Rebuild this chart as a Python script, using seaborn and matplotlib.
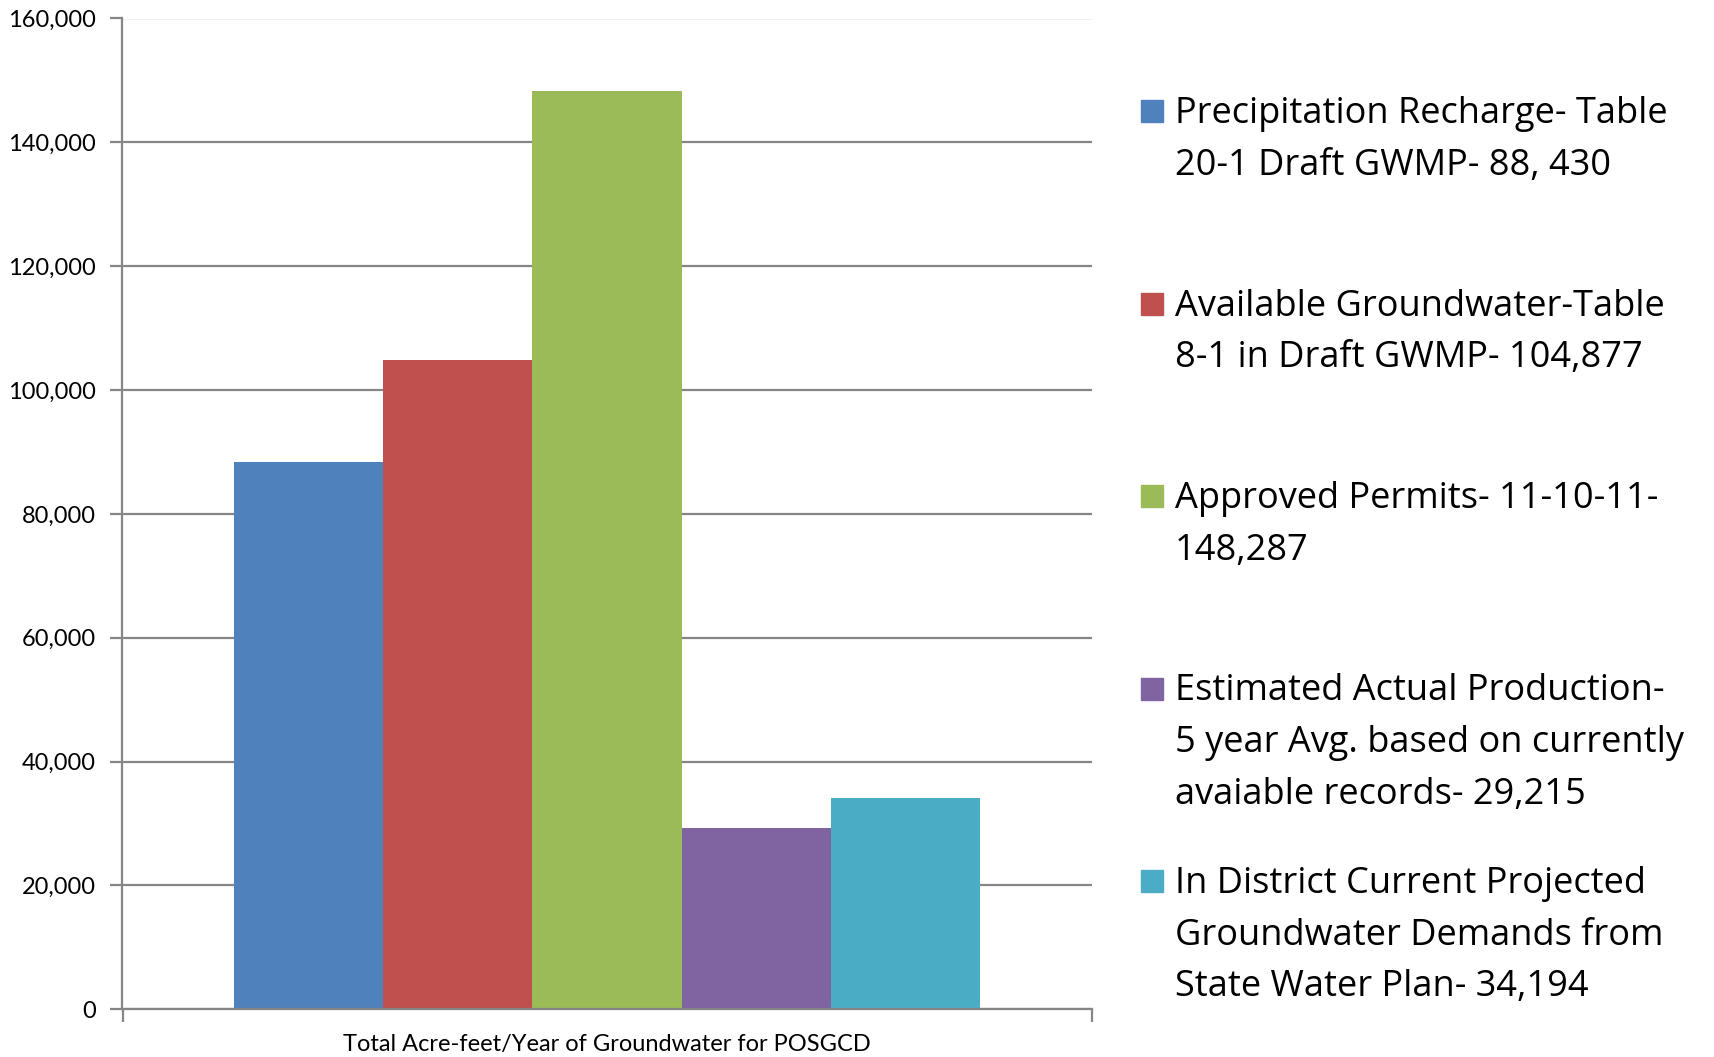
import matplotlib
matplotlib.use("Agg")
import matplotlib.pyplot as plt
from matplotlib.patches import Rectangle
from matplotlib.ticker import FuncFormatter
import seaborn as sns
import pandas as pd

# ---- data ----
category = ["Total Acre-feet/Year of Groundwater for POSGCD"]
series = [
    "Precipitation Recharge- Table\n20-1 Draft GWMP- 88, 430",
    "Available Groundwater-Table\n8-1 in Draft GWMP- 104,877",
    "Approved Permits- 11-10-11-\n148,287",
    "Estimated Actual Production-\n5 year Avg. based on currently\navaiable records- 29,215",
    "In District Current Projected\nGroundwater Demands from\nState Water Plan- 34,194",
]
values = [88430, 104877, 148287, 29215, 34194]
colors = ["#4F81BD", "#C0504D", "#9BBB59", "#8064A2", "#4BACC6"]
yticks = [0, 20000, 40000, 60000, 80000, 100000, 120000, 140000, 160000]

df = pd.DataFrame({"group": category * len(series), "series": series, "value": values})

sns.set_theme(style="white")
plt.rcParams["font.family"] = ["Lato", "DejaVu Sans"]

W, H = 1715, 1057
fig = plt.figure(figsize=(W / 100, H / 100), dpi=100)
ax = fig.add_axes([122.5 / W, 1 - 1009.3 / H, (1091.6 - 122.5) / W, (1009.3 - 18.5) / H])

sns.barplot(data=df, x="group", y="value", hue="series", hue_order=series,
            palette=colors, saturation=1, width=0.77, gap=0, dodge=True,
            legend=False, ax=ax, linewidth=0)

grid_c = "#868686"
ax.set_ylim(0, 160000)
ax.set_xlim(-0.5, 0.5)
ax.set_yticks(yticks)
ax.yaxis.set_major_formatter(FuncFormatter(lambda v, p: f"{int(v):,}"))
ax.yaxis.grid(True, color=grid_c, linewidth=1.6)
ax.set_axisbelow(True)
ax.set_xticks([-0.5, 0.5])
ax.set_xticklabels(["", ""])
ax.set_xlabel(category[0], fontsize=17, color="black", labelpad=5)
ax.set_ylabel("")
ax.tick_params(axis="y", which="major", direction="out", length=9, width=1.6,
               color=grid_c, labelsize=17, labelcolor="black", pad=10, left=True)
ax.tick_params(axis="x", direction="out", length=9, width=1.6, color=grid_c, bottom=True)
for s in ["top", "right"]:
    ax.spines[s].set_visible(False)
for s in ["left", "bottom"]:
    ax.spines[s].set_color(grid_c)
    ax.spines[s].set_linewidth(1.6)

# ---- legend drawn manually (entries top-aligned in equal slots) ----
x_box, box = 1141, 22
x_text = 1175
y0 = 114
slot = 192.5
line_h = 51.7
for i, (lab, c) in enumerate(zip(series, colors)):
    yc = y0 + i * slot
    fig.patches.append(Rectangle((x_box / W, 1 - (yc - 3 + box / 2) / H), box / W, box / H,
                                 transform=fig.transFigure, color=c, figure=fig))
    for j, line in enumerate(lab.split("\n")):
        fig.text(x_text / W, 1 - (yc + j * line_h) / H, line, fontsize=26,
                 family=["Open Sans", "DejaVu Sans"],
                 va="center", ha="left", color="black")

fig.savefig("out.png", dpi=100)
